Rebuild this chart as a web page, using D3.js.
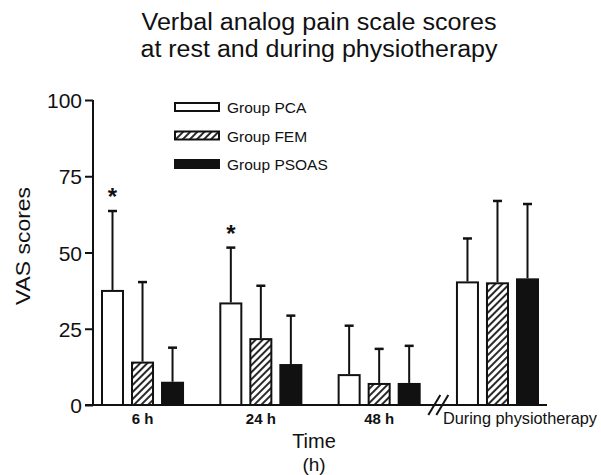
<!DOCTYPE html>
<html>
<head>
<meta charset="utf-8">
<script src="https://cdn.jsdelivr.net/npm/d3@7"></script>
<style>
  html, body { margin: 0; padding: 0; background: #fff; }
  svg { display: block; }
  text { font-family: "Liberation Sans", Arial, Helvetica, sans-serif; fill: #111; }
</style>
</head>
<body>
<svg id="chart" width="601" height="475"></svg>
<script>
// ---- data ----
const titleLines = ["Verbal analog pain scale scores", "at rest and during physiotherapy"];
const categories = ["6 h", "24 h", "48 h", "During physiotherapy"];
const groups = ["Group PCA", "Group FEM", "Group PSOAS"];
const pcaMean   = [37.4, 33.3, 9.8, 40.2];
const pcaSD     = [26.2, 18.3, 16.2, 14.4];
const femMean   = [13.9, 21.6, 6.9, 39.9];
const femSD     = [26.4, 17.5, 11.5, 27.0];
const psoasMean = [7.3, 13.1, 6.9, 41.2];
const psoasSD   = [11.5, 16.2, 12.5, 24.7];
const pcaStar   = [true, true, false, false];
const yTicks    = [0, 25, 50, 75, 100];
const yLabel = "VAS scores";
const xLabel = ["Time", "(h)"];

// ---- build table ----
const means = [pcaMean, femMean, psoasMean];
const sds = [pcaSD, femSD, psoasSD];
const rows = [];
categories.forEach((c, ci) => {
  groups.forEach((g, gi) => {
    rows.push({cat: c, grp: g, gi, mean: means[gi][ci], sd: sds[gi][ci], star: gi === 0 && pcaStar[ci]});
  });
});

const svg = d3.select("#chart");
const defs = svg.append("defs");
const pat = defs.append("pattern")
  .attr("id", "hatch").attr("patternUnits", "userSpaceOnUse")
  .attr("width", 5).attr("height", 5)
  .attr("patternTransform", "rotate(45)");
pat.append("rect").attr("width", 5).attr("height", 5).attr("fill", "#fff");
pat.append("line").attr("x1", 1).attr("y1", 0).attr("x2", 1).attr("y2", 5)
  .attr("stroke", "#111").attr("stroke-width", 1.8);

const fills = { "Group PCA": "#fff", "Group FEM": "url(#hatch)", "Group PSOAS": "#111" };

const x0 = d3.scaleBand().domain(categories).range([93, 547]).paddingInner(0.315).paddingOuter(0.076);
const x1 = d3.scaleBand().domain(groups).range([0, x0.bandwidth()]).paddingInner(0.3).paddingOuter(0);
const y = d3.scaleLinear().domain([0, 100]).range([405, 100]);

// title
svg.append("g").selectAll("text").data(titleLines).join("text")
  .attr("x", 319).attr("y", (d, i) => 30 + i * 27)
  .attr("text-anchor", "middle")
  .attr("font-size", 23)
  .attr("textLength", (d, i) => i === 0 ? 355 : 357).attr("lengthAdjust", "spacingAndGlyphs")
  .text(d => d);

// bars
const bars = svg.append("g");
bars.selectAll("rect").data(rows).join("rect")
  .attr("x", d => x0(d.cat) + x1(d.grp))
  .attr("width", x1.bandwidth())
  .attr("y", d => y(d.mean))
  .attr("height", d => y(0) - y(d.mean))
  .attr("fill", d => fills[d.grp])
  .attr("stroke", "#111").attr("stroke-width", 2);

// error bars
const eb = svg.append("g").attr("stroke", "#111").attr("stroke-width", 2);
eb.selectAll("line.v").data(rows).join("line").attr("class", "v")
  .attr("x1", d => x0(d.cat) + x1(d.grp) + x1.bandwidth() / 2)
  .attr("x2", d => x0(d.cat) + x1(d.grp) + x1.bandwidth() / 2)
  .attr("y1", d => y(d.mean) - 1)
  .attr("y2", d => y(d.mean + d.sd));
eb.selectAll("line.c").data(rows).join("line").attr("class", "c")
  .attr("x1", d => x0(d.cat) + x1(d.grp) + x1.bandwidth() / 2 - 4.5)
  .attr("x2", d => x0(d.cat) + x1(d.grp) + x1.bandwidth() / 2 + 4.5)
  .attr("y1", d => y(d.mean + d.sd))
  .attr("y2", d => y(d.mean + d.sd))
  .attr("stroke-width", 2.5);

// stars
svg.append("g").selectAll("text").data(rows.filter(d => d.star)).join("text")
  .attr("x", d => x0(d.cat) + x1(d.grp) + x1.bandwidth() / 2)
  .attr("y", d => y(d.mean + d.sd) - 6)
  .attr("text-anchor", "middle")
  .attr("font-size", 24).attr("font-weight", "bold")
  .text("*");

// y axis
const yAxis = svg.append("g").attr("transform", "translate(93,0)")
  .call(d3.axisLeft(y).tickValues(yTicks).tickSize(8).tickPadding(3));
yAxis.select(".domain").attr("stroke", "#111").attr("stroke-width", 2).attr("d", `M0,${y(100)}V${y(0)}`);
yAxis.selectAll(".tick line").attr("stroke", "#111").attr("stroke-width", 2);
yAxis.selectAll(".tick text").attr("font-size", 21).attr("fill", "#111")
  .attr("font-family", "\"Liberation Sans\", Arial, sans-serif").attr("dy", "0.36em");

// x axis
const xAxis = svg.append("g").attr("transform", `translate(0,${y(0)})`)
  .call(d3.axisBottom(x0).tickSize(0).tickPadding(10));
xAxis.select(".domain").attr("stroke", "#111").attr("stroke-width", 2).attr("d", "M85,0H547");
xAxis.selectAll(".tick text")
  .attr("font-family", "\"Liberation Sans\", Arial, sans-serif")
  .attr("fill", "#111")
  .attr("font-size", (d, i) => i === 3 ? 16 : 15)
  .attr("font-weight", (d, i) => i === 3 ? "normal" : "bold")
  .attr("text-anchor", (d, i) => i === 3 ? "start" : "middle")
  .attr("x", (d, i) => i === 3 ? -(x0.bandwidth() / 2) - 14 : 0)
  .attr("textLength", (d, i) => i === 3 ? 154 : null)
  .attr("lengthAdjust", "spacingAndGlyphs")
  .attr("y", 8);

// axis break marks
const brk = svg.append("g").attr("stroke", "#111").attr("stroke-width", 2);
const bx = (x0(categories[2]) + x0.bandwidth() + x0(categories[3])) / 2;
[-4, 4].forEach(o => {
  brk.append("line")
    .attr("x1", bx + o - 6).attr("y1", y(0) + 10)
    .attr("x2", bx + o + 6).attr("y2", y(0) - 10);
});

// axis titles
svg.append("text")
  .attr("transform", `translate(30,246) rotate(-90)`)
  .attr("text-anchor", "middle").attr("font-size", 21)
  .attr("textLength", 118).attr("lengthAdjust", "spacingAndGlyphs")
  .text(yLabel);
svg.append("g").selectAll("text").data(xLabel).join("text")
  .attr("x", 314).attr("y", (d, i) => 448 + i * 23)
  .attr("text-anchor", "middle").attr("font-size", (d, i) => i === 0 ? 20 : 19)
  .text(d => d);

// legend
const lg = svg.append("g").attr("transform", "translate(175,103)");
const li = lg.selectAll("g").data(groups).join("g")
  .attr("transform", (d, i) => `translate(0,${i * 28.5})`);
li.append("rect").attr("width", 44).attr("height", 8)
  .attr("fill", d => fills[d]).attr("stroke", "#111").attr("stroke-width", 2);
li.append("text").attr("x", 52).attr("y", 10)
  .attr("font-size", 15.5).text(d => d);
</script>
</body>
</html>
